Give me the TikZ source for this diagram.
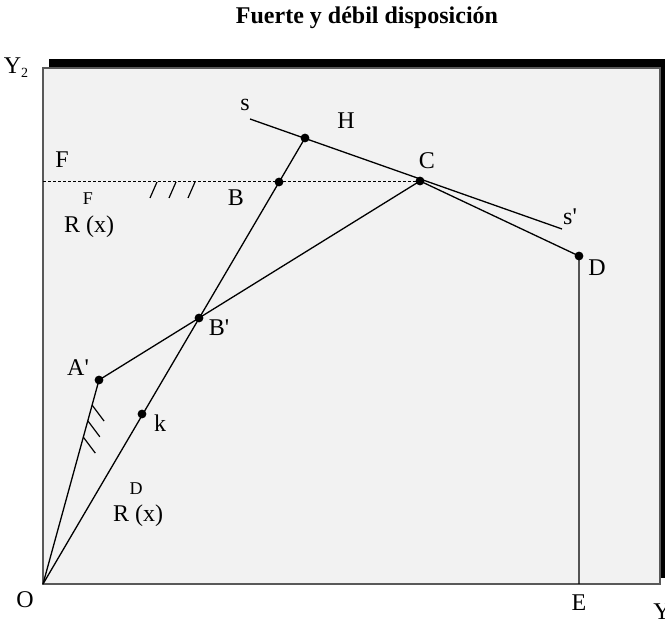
\documentclass[tikz,border=0pt]{standalone}
\usepackage{fontspec}
\setmainfont{Liberation Serif}
\usetikzlibrary{calc,positioning}
\tikzset{
    ptlabel/.style={font=\fontsize{12}{14}\selectfont, inner sep=0pt},
    suplabel/.style={font=\fontsize{9}{10}\selectfont, inner sep=0pt},
    curveline/.style={line width=0.65pt},
    hatchline/.style={line width=0.6pt},
    dotline/.style={line width=0.45pt, dash pattern=on 1.5pt off 1pt}
}
\newcommand{\pr}{\textquotesingle}

\begin{document}
\begin{tikzpicture}[x=0.5pt, y=-0.5pt]
\useasboundingbox (0,0) rectangle (665,620);
\fill[black] (49,59) rectangle (670,578);
\draw[fill=black!5, draw=black!65, line width=0.6pt] (43,68) rectangle (660,584);
\node[font=\bfseries\fontsize{12}{14}\selectfont] (title) at (367,18) {Fuerte y débil disposición};

\coordinate (O) at (43,584);
\coordinate (E) at (579,584);
\coordinate (Ap) at (99,380);
\coordinate (Bp) at (199,318);
\coordinate (B) at (279,182);
\coordinate (H) at (305,138);
\coordinate (C) at (420,181);
\coordinate (D) at (579,256);
\coordinate (k) at (142,414);
\coordinate (sL) at (250,119);
\coordinate (sR) at (562,229);
\coordinate (Fl) at (43,181);

\draw[dotline] (Fl) -- (C);
\draw[curveline] (O) -- (Ap) -- (Bp) -- (C) -- (D) -- (E);
\draw[curveline] (O) -- (H);
\draw[curveline] (sL) -- (sR);
\foreach \t in {0.877,0.80,0.72}
    \draw[hatchline] ($(O)!\t!(Ap)$) -- ++(12,16);
\foreach \x in {157,176,195}
    \draw[hatchline] (\x,182) -- ++(-7,16);
\foreach \p in {Ap,Bp,B,H,C,D,k}
    \fill (\p) circle[radius=2.2pt];

\node[ptlabel] (Y2lab) at (16,68) {Y\raisebox{-2pt}{\fontsize{7}{8}\selectfont 2}};
\node[ptlabel] (slab) at (245,105) {s};
\node[ptlabel] (Hlab) at (346,121) {H};
\node[ptlabel] (Flab) at (62,160) {F};
\node[ptlabel] (Clab) at (427,161) {C};
\node[suplabel] (RFsup) at (88,199) {F};
\node[ptlabel] (RFlab) at (89,227) {R (x)};
\node[ptlabel] (Blab) at (236,198) {B};
\node[ptlabel] (sRlab) at (570,217) {s\pr};
\node[ptlabel] (Dlab) at (597,268) {D};
\node[ptlabel] (Bplab) at (219,328) {B\pr};
\node[ptlabel] (Aplab) at (78,368) {A\pr};
\node[ptlabel] (klab) at (160,423) {k};
\node[suplabel] (RDsup) at (136,489) {D};
\node[ptlabel] (RDlab) at (138,516) {R (x)};
\node[ptlabel] (Olab) at (25,600) {O};
\node[ptlabel] (Elab) at (579,603) {E};
\node[ptlabel, anchor=west] (Y1lab) at (653,612) {Y};
\end{tikzpicture}
\end{document}
